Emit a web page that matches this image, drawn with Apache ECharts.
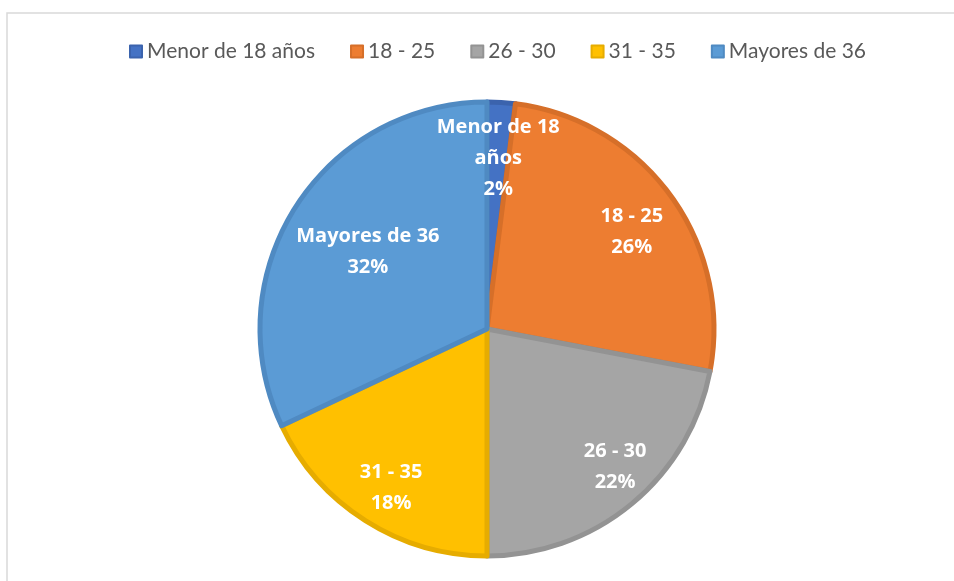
<!DOCTYPE html>
<html>
<head>
<meta charset="utf-8">
<script src="https://cdn.jsdelivr.net/npm/echarts@6/dist/echarts.min.js"></script>
<style>
  html, body { margin: 0; padding: 0; background: #fff; }
  #chart { width: 954px; height: 581px; }
</style>
</head>
<body>
<div id="chart"></div>
<script>
// grupos de edad
const categories = ['Menor de 18 años', '18 - 25', '26 - 30', '31 - 35', 'Mayores de 36'];
const values = [2, 26, 22, 18, 32];
const colors = ['#4472C4', '#ED7D31', '#A5A5A5', '#FFC000', '#5B9BD5'];
const borders = ['#3B63AD', '#D66F29', '#939393', '#E6AC00', '#4F8AC2'];

let chart = echarts.init(document.getElementById('chart'));

const pieData = categories.map((name, i) => ({
  name: name,
  value: values[i],
  itemStyle: { color: colors[i], borderColor: borders[i] }
}));

// Excel empuja la etiqueta grande hacia dentro
const labelData = categories.map((name, i) => {
  const d = { name: name, value: values[i] };
  if (name === 'Mayores de 36') d.label = { offset: [32, 19] };
  if (name === '26 - 30') d.label = { offset: [14, 0] };
  return d;
});

chart.setOption({
  backgroundColor: '#fff',
  animation: false,
  graphic: [{
    type: 'rect',
    shape: { x: 7, y: 13, width: 980, height: 620 },
    style: { fill: 'none', stroke: '#D9D9D9', lineWidth: 1.5 },
    silent: true
  }],
  legend: {
    top: 36,
    left: 124,
    itemWidth: 12,
    itemHeight: 12,
    itemGap: 35,
    icon: 'rect',
    textStyle: { color: '#595959', fontSize: 21, fontFamily: 'Lato' },
    data: categories
  },
  series: [
    {
      type: 'pie',
      center: [487, 329],
      radius: [0, 227],
      startAngle: 90,
      clockwise: true,
      label: { show: false },
      labelLine: { show: false },
      itemStyle: { borderWidth: 5 },
      emphasis: { disabled: true },
      data: pieData
    },
    {
      // capa transparente solo para colocar las etiquetas más afuera
      type: 'pie',
      center: [487, 329],
      radius: [120, 232],
      startAngle: 90,
      clockwise: true,
      silent: true,
      itemStyle: { color: 'rgba(0,0,0,0)', borderWidth: 0 },
      label: {
        show: true,
        position: 'inside',
        offset: [0, 8],
        color: '#fff',
        fontSize: 20,
        fontWeight: 'bold',
        fontFamily: 'Open Sans',
        lineHeight: 31,
        formatter: p => p.name.replace('18 años', '18\naños') + '\n' + p.percent + '%'
      },
      labelLine: { show: false },
      data: labelData
    }
  ]
});
</script>
</body>
</html>
